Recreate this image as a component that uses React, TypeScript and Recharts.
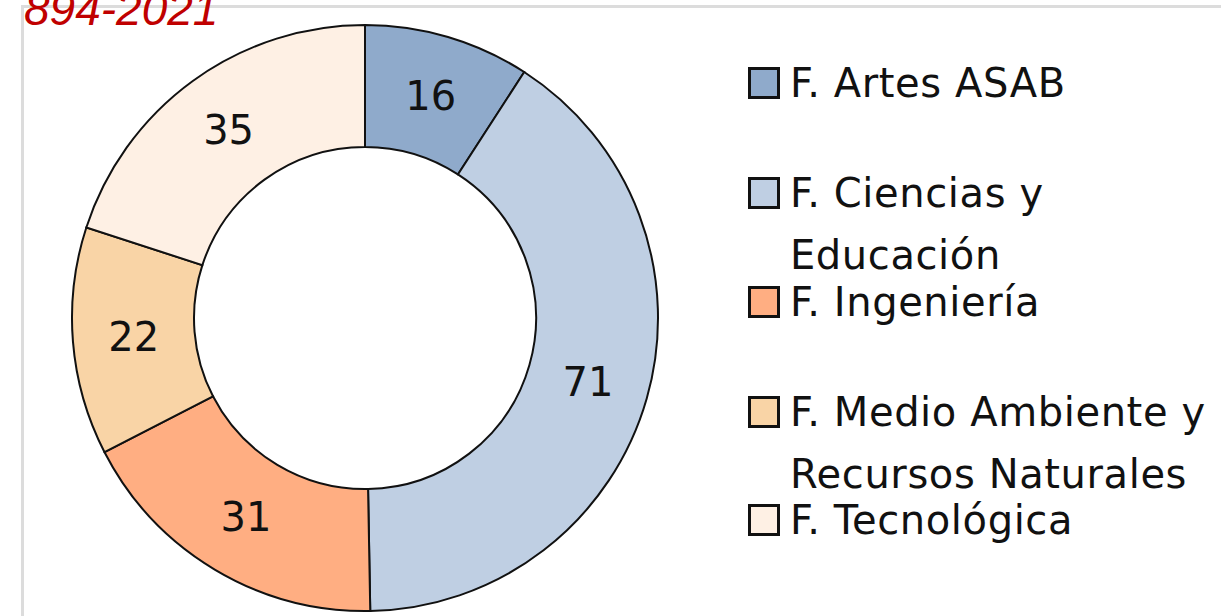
import React from "react";
import { PieChart, Pie, Cell } from "recharts";

const faculties = [
  "F. Artes ASAB",
  "F. Ciencias y Educación",
  "F. Ingeniería",
  "F. Medio Ambiente y Recursos Naturales",
  "F. Tecnológica",
];

// how each legend entry wraps in the reference
const legendLines = [
  ["F. Artes ASAB"],
  ["F. Ciencias y", "Educación"],
  ["F. Ingeniería"],
  ["F. Medio Ambiente y", "Recursos Naturales"],
  ["F. Tecnológica"],
];

const counts = [16, 71, 31, 22, 35];

const colors = ["#8FAACB", "#BFCFE3", "#FFAE82", "#F9D4A6", "#FEF0E4"];

const chartData = faculties.map((name, i) => ({ name, value: counts[i] }));

const RADIAN = Math.PI / 180;
const FONT = "'DejaVu Sans', sans-serif";

const renderLabel = (props: any) => {
  const { cx, cy, midAngle, innerRadius, outerRadius, value } = props;
  const r = (innerRadius + outerRadius) / 2;
  const x = cx + r * Math.cos(-midAngle * RADIAN);
  const y = cy + r * Math.sin(-midAngle * RADIAN);
  return (
    <text
      x={x}
      y={y}
      fill="#111"
      fontSize={40}
      fontFamily={FONT}
      textAnchor="middle"
      dominantBaseline="central"
    >
      {value}
    </text>
  );
};

// legend square centres, matched to the reference spacing
const legendCenters = [83, 193, 302, 412, 520];

const FacultyLegend = () => (
  <div style={{ position: "absolute", left: 748, top: 0 }}>
    {legendLines.map((lines, i) => (
      <div
        key={faculties[i]}
        style={{ position: "absolute", left: 0, top: legendCenters[i] - 16 }}
      >
        <div
          style={{
            position: "absolute",
            left: 0,
            top: 0,
            width: 26,
            height: 26,
            background: colors[i],
            border: "3px solid #111",
          }}
        />
        <div
          style={{
            position: "absolute",
            left: 42,
            top: -15,
            fontFamily: FONT,
            fontSize: 40,
            letterSpacing: 0.6,
            lineHeight: "62px",
            color: "#111",
            whiteSpace: "nowrap",
          }}
        >
          {lines.map((l) => (
            <div key={l}>{l}</div>
          ))}
        </div>
      </div>
    ))}
  </div>
);

export default function App() {
  return (
    <div
      style={{
        position: "fixed",
        left: 0,
        top: 0,
        width: 1221,
        height: 616,
        background: "#fff",
        overflow: "hidden",
      }}
    >
      <div
        style={{
          position: "absolute",
          left: 21,
          top: 5,
          width: 1300,
          height: 700,
          borderTop: "3px solid #dcdcdc",
          borderLeft: "3px solid #dcdcdc",
        }}
      />
      <div
        style={{
          position: "absolute",
          left: 24,
          top: -17,
          fontFamily: "'Liberation Sans', Arial, sans-serif",
          fontStyle: "italic",
          fontSize: 46,
          color: "#C00000",
          lineHeight: "52px",
        }}
      >
        894-2021
      </div>
      <div style={{ position: "absolute", left: 0, top: 0 }}>
        <PieChart
          width={740}
          height={616}
          margin={{ top: 0, right: 0, bottom: 0, left: 0 }}
        >
          <Pie
            data={chartData}
            dataKey="value"
            nameKey="name"
            cx={365}
            cy={318}
            innerRadius={171}
            outerRadius={293}
            startAngle={90}
            endAngle={-270}
            stroke="#111"
            strokeWidth={2}
            label={renderLabel}
            labelLine={false}
            isAnimationActive={false}
          >
            {chartData.map((d, i) => (
              <Cell key={d.name} fill={colors[i]} />
            ))}
          </Pie>
        </PieChart>
      </div>
      <FacultyLegend />
    </div>
  );
}
